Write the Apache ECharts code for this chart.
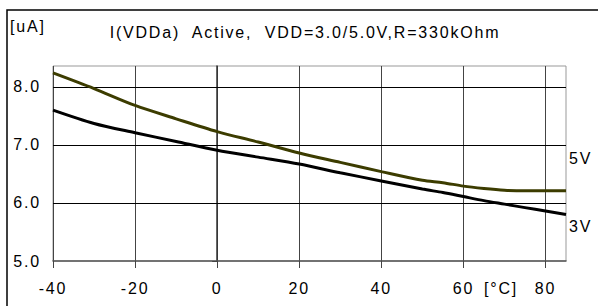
<!DOCTYPE html>
<html>
<head>
<meta charset="utf-8">
<script src="https://cdn.jsdelivr.net/npm/echarts@6/dist/echarts.min.js"></script>
<style>
  html, body { margin: 0; padding: 0; background: #fff; }
  #mychart { width: 598px; height: 306px; }
  /* the original chart has wide letter spacing on all texts */
  #mychart text { letter-spacing: 1.8px; }
</style>
</head>
<body>
<div id="mychart"></div>
<script>
// temperature [°C]
var temps = [-40, -30, -20, -10, 0, 10, 20, 30, 40, 50, 55, 60, 65, 70, 75, 80, 85];
// I(VDDa) [uA]
var v5 = [8.24, 7.97, 7.68, 7.45, 7.23, 7.05, 6.86, 6.70, 6.54, 6.39, 6.35, 6.29, 6.25, 6.22, 6.21, 6.21, 6.21];
var v3 = [7.60, 7.37, 7.21, 7.06, 6.91, 6.79, 6.67, 6.52, 6.38, 6.24, 6.18, 6.11, 6.04, 5.98, 5.92, 5.86, 5.80];
var xTicks = [-40, -20, 0, 20, 40, 60, 80];
var yTicks = [5, 6, 7, 8];
var seriesNames = ['5V', '3V'];
var titleText = 'I(VDDa)  Active,  VDD=3.0/5.0V,R=330kOhm';

var font = "'Liberation Sans', Arial, sans-serif";
var fs = 16;
var xMin = -40, xMax = 85;

function pairs(xs, ys) {
  var out = [];
  for (var i = 0; i < xs.length; i++) {
    out.push([xs[i], ys[i]]);
  }
  return out;
}

var chart = echarts.init(document.getElementById('mychart'), null, { renderer: 'svg' });

var texts = [
  // outer frame (only left and top edges are visible in the picture)
  {
    type: 'rect',
    shape: { x: 7, y: 10, width: 700, height: 400 },
    style: { fill: 'none', stroke: '#000', lineWidth: 1.5 },
    silent: true,
    z: 0
  },
  {
    type: 'text',
    x: 10,
    y: 26,
    style: { text: '[uA]', font: fs + 'px ' + font, fill: '#000', verticalAlign: 'middle' }
  },
  {
    type: 'text',
    x: 305,
    y: 32,
    style: { text: titleText, font: fs + 'px ' + font, fill: '#000', align: 'center', verticalAlign: 'middle' }
  },
  {
    type: 'text',
    x: 569,
    y: 158,
    style: { text: seriesNames[0], font: fs + 'px ' + font, fill: '#000', verticalAlign: 'middle' }
  },
  {
    type: 'text',
    x: 569,
    y: 226,
    style: { text: seriesNames[1], font: fs + 'px ' + font, fill: '#000', verticalAlign: 'middle' }
  },
  {
    type: 'text',
    x: 501,
    y: 288,
    style: { text: '[°C]', font: fs + 'px ' + font, fill: '#000', align: 'center', verticalAlign: 'middle' }
  }
];

var option = {
  animation: false,
  backgroundColor: '#fff',
  textStyle: { fontFamily: font },
  grid: {
    left: 53,
    right: 32,
    top: 66,
    bottom: 45,
    show: true,
    borderColor: '#999',
    borderWidth: 1
  },
  xAxis: {
    type: 'value',
    min: xMin,
    max: xMax,
    interval: 20,
    axisLine: { show: true, onZero: false, lineStyle: { color: '#555', width: 1.5 } },
    axisTick: { show: true, length: 7, customValues: xTicks, lineStyle: { color: '#444' } },
    axisLabel: { showMaxLabel: false, color: '#000', fontSize: fs, margin: 19, fontFamily: font },
    splitLine: {
      show: true,
      showMaxLine: true,
      lineStyle: { color: '#444', width: 1 }
    }
  },
  yAxis: {
    type: 'value',
    min: 5,
    max: 8.36,
    interval: 1,
    axisLine: { show: true, lineStyle: { color: '#333', width: 1.5 } },
    axisTick: { show: true, length: 5, customValues: yTicks, lineStyle: { color: '#444' } },
    axisLabel: {
      showMaxLabel: false,
      color: '#000',
      fontSize: fs,
      margin: 12,
      fontFamily: font,
      formatter: function (v) { return v.toFixed(1); }
    },
    splitLine: { show: false }
  },
  series: [
    {
      name: seriesNames[0],
      type: 'line',
      smooth: 0.3,
      showSymbol: false,
      data: pairs(temps, v5),
      lineStyle: { color: '#3c3c00', width: 3 },
      itemStyle: { color: '#3c3c00' },
      z: 3
    },
    {
      name: seriesNames[1],
      type: 'line',
      smooth: 0.3,
      showSymbol: false,
      data: pairs(temps, v3),
      lineStyle: { color: '#000', width: 3 },
      itemStyle: { color: '#000' },
      z: 3
    }
  ],
  graphic: texts
};

chart.setOption(option);

// horizontal grid lines, placed through the chart's own y scale
var gridLines = [];
for (var i = 1; i < yTicks.length; i++) {
  var p0 = chart.convertToPixel({ gridIndex: 0 }, [xMin, yTicks[i]]);
  var p1 = chart.convertToPixel({ gridIndex: 0 }, [xMax, yTicks[i]]);
  var py = Math.round(p0[1]) + 0.5;
  gridLines.push({
    type: 'line',
    shape: { x1: p0[0], y1: py, x2: p1[0], y2: py },
    style: { stroke: '#000', lineWidth: 1 },
    silent: true,
    z: 2
  });
}
chart.setOption({ graphic: texts.concat(gridLines) });
</script>
</body>
</html>
